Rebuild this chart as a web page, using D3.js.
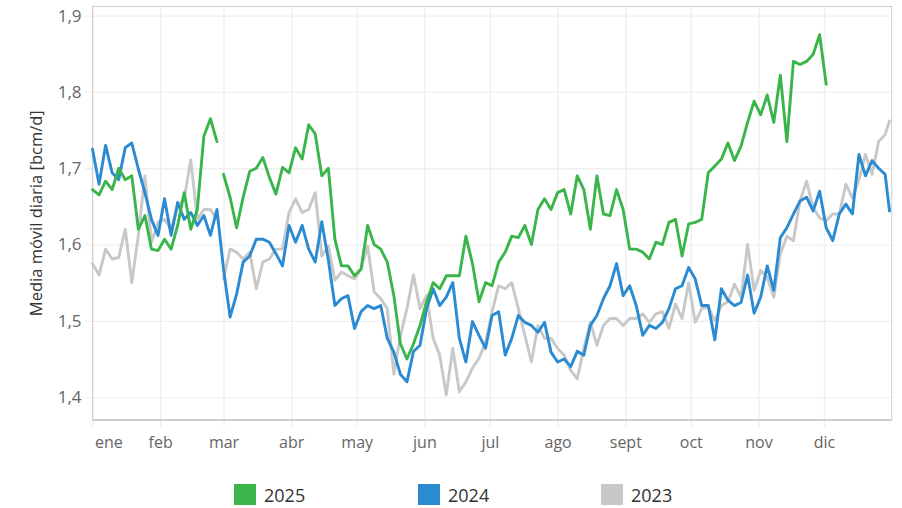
<!DOCTYPE html>
<html>
<head>
<meta charset="utf-8">
<script src="https://cdn.jsdelivr.net/npm/d3@7"></script>
<style>
body { margin: 0; background: #fff; }
svg text { font-family: "Open Sans", sans-serif; }
</style>
</head>
<body>
<script>
// sample days on a leap-year axis (every 3 days, plus 31 dic)
var days = d3.range(0, 364, 3).concat([365]);

var months = ["ene", "feb", "mar", "abr", "may", "jun", "jul", "ago", "sept", "oct", "nov", "dic"];
var yTicks = [1.4, 1.5, 1.6, 1.7, 1.8, 1.9];

var years = ["2025", "2024", "2023"];
var colors = ["#3ab54a", "#2a8ad2", "#c8c8c8"];

var values2025 = [
    1.672, 1.665, 1.683, 1.672, 1.70, 1.685, 1.69, 1.62, 1.638, 1.594,
    1.592, 1.607, 1.594, 1.625, 1.668, 1.62, 1.646, 1.742, 1.765, 1.735,
    1.692, 1.662, 1.622, 1.662, 1.696, 1.70, 1.714, 1.688, 1.666, 1.701,
    1.694, 1.727, 1.712, 1.757, 1.745, 1.69, 1.70, 1.607, 1.572, 1.572,
    1.559, 1.568, 1.625, 1.60, 1.594, 1.577, 1.533, 1.47, 1.45, 1.47,
    1.494, 1.525, 1.55, 1.542, 1.559, 1.559, 1.559, 1.611, 1.575, 1.525,
    1.55, 1.546, 1.577, 1.59, 1.611, 1.609, 1.625, 1.60, 1.646, 1.66,
    1.646, 1.668, 1.672, 1.64, 1.69, 1.672, 1.62, 1.69, 1.64, 1.638,
    1.672, 1.646, 1.594, 1.594, 1.59, 1.581, 1.603, 1.60, 1.629, 1.633,
    1.585, 1.627, 1.629, 1.633, 1.694, 1.703, 1.712, 1.733, 1.71, 1.729,
    1.76, 1.788, 1.77, 1.796, 1.76, 1.822, 1.735, 1.84, 1.836, 1.84,
    1.849, 1.875, 1.81
];

var values2024 = [
    1.725, 1.679, 1.73, 1.694, 1.685, 1.727, 1.733, 1.699, 1.668, 1.633,
    1.612, 1.66, 1.612, 1.655, 1.633, 1.642, 1.625, 1.638, 1.612, 1.646,
    1.568, 1.505, 1.535, 1.577, 1.585, 1.607, 1.607, 1.603, 1.588, 1.572,
    1.625, 1.603, 1.625, 1.594, 1.577, 1.63, 1.58, 1.52, 1.529, 1.533,
    1.49, 1.512, 1.52, 1.516, 1.52, 1.477, 1.459, 1.43, 1.42, 1.46,
    1.468, 1.516, 1.542, 1.52, 1.531, 1.55, 1.477, 1.446, 1.499, 1.481,
    1.464, 1.507, 1.512, 1.455, 1.477, 1.507, 1.498, 1.494, 1.485, 1.498,
    1.459, 1.446, 1.45, 1.44, 1.46, 1.455, 1.494, 1.507, 1.529, 1.546,
    1.575, 1.533, 1.546, 1.52, 1.481, 1.494, 1.49, 1.498, 1.516, 1.542,
    1.546, 1.57, 1.555, 1.52, 1.52, 1.475, 1.542, 1.527, 1.52, 1.524,
    1.56, 1.51, 1.531, 1.572, 1.54, 1.609, 1.622, 1.64, 1.657, 1.662,
    1.644, 1.67, 1.622, 1.605, 1.64, 1.653, 1.64, 1.718, 1.69, 1.71,
    1.70, 1.692, 1.644
];

var values2023 = [
    1.575, 1.56, 1.594, 1.581, 1.583, 1.62, 1.55, 1.612, 1.69, 1.603,
    1.629, 1.633, 1.62, 1.65, 1.66, 1.711, 1.633, 1.646, 1.646, 1.633,
    1.555, 1.594, 1.59, 1.581, 1.59, 1.542, 1.577, 1.581, 1.594, 1.594,
    1.642, 1.66, 1.642, 1.646, 1.668, 1.585, 1.598, 1.553, 1.564, 1.559,
    1.555, 1.568, 1.598, 1.538, 1.529, 1.516, 1.43, 1.48, 1.516, 1.56,
    1.516, 1.533, 1.477, 1.455, 1.403, 1.464, 1.407, 1.42, 1.438, 1.451,
    1.472, 1.512, 1.546, 1.542, 1.55, 1.516, 1.481, 1.446, 1.494, 1.477,
    1.477, 1.464, 1.455, 1.435, 1.424, 1.464, 1.498, 1.468, 1.494, 1.503,
    1.503, 1.494, 1.503, 1.503, 1.509, 1.498, 1.509, 1.512, 1.49, 1.522,
    1.503, 1.55, 1.498, 1.516, 1.518, 1.50, 1.52, 1.525, 1.548, 1.531,
    1.60, 1.54, 1.566, 1.557, 1.531, 1.588, 1.611, 1.605, 1.657, 1.683,
    1.648, 1.635, 1.631, 1.64, 1.64, 1.679, 1.661, 1.685, 1.718, 1.692,
    1.735, 1.744, 1.762
];

var seriesValues = [values2025, values2024, values2023];
var leapYear = [false, true, false];

var W = 902, H = 508;
var margin = {top: 6.5, right: 10.3, bottom: 88, left: 92.5},
    width = W - margin.left - margin.right,
    height = H - margin.top - margin.bottom;

var x = d3.scaleTime()
    .domain([new Date(2024, 0, 1), new Date(2025, 0, 1)])
    .range([0, width]);
var y = d3.scaleLinear().domain([1.37, 1.912]).range([height, 0]);

var es = d3.formatLocale({decimal: ",", thousands: ".", grouping: [3], currency: ["", " €"]});
var fmt = es.format(".1f");

var svg = d3.select("body").append("svg")
    .attr("width", W)
    .attr("height", H)
    .append("g")
    .attr("transform", "translate(" + margin.left + "," + margin.top + ")");

// horizontal grid + y labels
var yAxis = d3.axisLeft(y).tickValues(yTicks).tickFormat(fmt).tickSize(0).tickPadding(11);
var gy = svg.append("g").attr("class", "y axis").call(yAxis);
gy.select(".domain").remove();
gy.selectAll(".tick line")
    .attr("x1", -7).attr("x2", width)
    .attr("stroke", "#efefef").attr("stroke-width", 1.3);
gy.selectAll(".tick text")
    .attr("fill", "#666").style("font-size", "17px");

// vertical grid + month labels (months of 2024 only)
var monthStarts = d3.timeMonth.range(new Date(2024, 0, 1), new Date(2025, 0, 1));
var xAxis = d3.axisBottom(x).tickValues(monthStarts)
    .tickFormat(function (d) { return months[d.getMonth()]; })
    .tickSize(0);
var gx = svg.append("g").attr("class", "x axis")
    .attr("transform", "translate(0," + height + ")")
    .call(xAxis);
gx.select(".domain").remove();
gx.selectAll(".tick line")
    .attr("y1", -height).attr("y2", 7)
    .attr("stroke", "#efefef").attr("stroke-width", 1.3);
gx.selectAll(".tick text")
    .attr("y", 28).attr("dy", 0)
    .attr("fill", "#666").style("font-size", "16px")
    .filter(function (d) { return d.getMonth() === 0; })
    .attr("text-anchor", "start").attr("x", 2);

// plot frame
svg.append("rect")
    .attr("x", 0).attr("y", 0)
    .attr("width", width).attr("height", height)
    .attr("fill", "none").attr("stroke", "#cfcfcf").attr("stroke-width", 1);
svg.append("line")
    .attr("x1", 0).attr("x2", width).attr("y1", height).attr("y2", height)
    .attr("stroke", "#c6c6c6").attr("stroke-width", 1.5);

var line = d3.line()
    .x(function (d) { return x(d.date); })
    .y(function (d) { return y(d.v); });

// draw oldest first so 2025 ends on top
for (var s = seriesValues.length - 1; s >= 0; s--) {
    var pts = seriesValues[s].map(function (v, i) {
        return {day: days[i], date: new Date(2024, 0, 1 + days[i]), v: v};
    });
    // non-leap years have no 29 feb: break the line there
    var parts = leapYear[s] ? [pts] : [
        pts.filter(function (d) { return d.day < 59; }),
        pts.filter(function (d) { return d.day >= 60; })
    ];
    parts.forEach(function (p) {
        svg.append("path")
            .datum(p)
            .attr("fill", "none")
            .attr("stroke", colors[s])
            .attr("stroke-width", 2.9)
            .attr("stroke-linejoin", "round")
            .attr("stroke-linecap", "round")
            .attr("d", line);
    });
}

// y title
svg.append("text")
    .attr("transform", "rotate(-90)")
    .attr("x", -height / 2)
    .attr("y", 42 - margin.left)
    .attr("text-anchor", "middle")
    .attr("fill", "#333")
    .style("font-size", "16.5px")
    .text("Media móvil diaria [bcm/d]");

// legend
var legendX = [234, 418, 601];
var legend = d3.select("svg").append("g");
years.forEach(function (yr, i) {
    legend.append("rect")
        .attr("x", legendX[i]).attr("y", 484)
        .attr("width", 22).attr("height", 21)
        .attr("fill", colors[i]);
    legend.append("text")
        .attr("x", legendX[i] + 30).attr("y", 502)
        .attr("fill", "#333")
        .style("font-size", "18px")
        .text(yr);
});
</script>
</body>
</html>
